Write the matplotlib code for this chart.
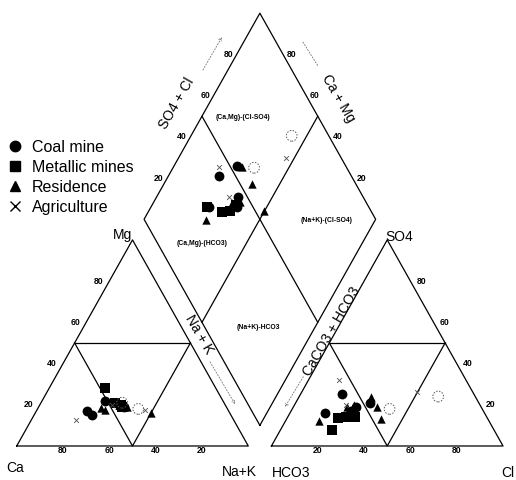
import numpy as np
import matplotlib.pyplot as plt
from matplotlib.lines import Line2D

plt.rcParams['font.family'] = ['Liberation Sans', 'DejaVu Sans']

# cations in % meq (Mg, Na+K; Ca is the rest) and anions (SO4, Cl; HCO3 is the rest)
coal_mg = [17, 22, 15, 20, 19]
coal_nak = [22, 27, 25, 35, 37]
coal_so4 = [25, 21, 16, 19, 17]
coal_cl = [18, 32, 15, 27, 26]

metal_mg = [28, 21, 20, 19]
metal_nak = [24, 32, 35, 36]
metal_so4 = [8, 13.5, 14, 14]
metal_cl = [22, 22, 25, 29]

resid_mg = [18.5, 16, 17.5, 19, 20, 19]
resid_nak = [27, 50, 29.5, 38, 34, 37]
resid_so4 = [12, 13, 24, 19, 19, 20]
resid_cl = [14.5, 41, 31, 36, 23, 25.5]

agri_mg = [12.5, 17.5, 20]
agri_nak = [19.5, 46.5, 31]
agri_so4 = [32, 26, 20]
agri_cl = [13, 50, 22]

# samples plotted with a dashed open ring
ring_mg = [21, 18]
ring_nak = [35, 43.5]
ring_so4 = [18, 24]
ring_cl = [42, 60]

labels = ['Coal mine', 'Metallic mines', 'Residence', 'Agriculture']
ticks = [20, 40, 60, 80]

H = np.sqrt(3) / 2
GAP = 0.1


def cation_xy(mg, nak):
    mg = np.asarray(mg) / 100
    nak = np.asarray(nak) / 100
    return nak + mg / 2, mg * H


def anion_xy(so4, cl):
    so4 = np.asarray(so4) / 100
    cl = np.asarray(cl) / 100
    return 1 + GAP + cl + so4 / 2, so4 * H


def diamond_ab(a, b):
    # a = Ca+Mg, b = SO4+Cl, both as fractions
    return 1 + GAP / 2 + (b - a) / 2, GAP * H + (a + b) * H


def diamond_xy(nak, so4, cl):
    a = 1 - np.asarray(nak) / 100
    b = (np.asarray(so4) + np.asarray(cl)) / 100
    return diamond_ab(a, b)


fig = plt.figure(figsize=(5.16, 4.8), dpi=100)
ax = fig.add_axes([0, 0, 1, 1])
ax.set_xlim(-0.0721, 2.156)
ax.set_ylim(-0.1429, 1.874)
ax.axis('off')

lk = dict(color='black', lw=0.9, zorder=1)

# cation triangle
ax.plot([0, 1, 0.5, 0], [0, 0, H, 0], **lk)
ax.plot([0.25, 0.75], [H / 2, H / 2], **lk)
ax.plot([0.25, 0.5, 0.75], [H / 2, 0, H / 2], **lk)

# anion triangle
x0 = 1 + GAP
ax.plot([x0, x0 + 1, x0 + 0.5, x0], [0, 0, H, 0], **lk)
ax.plot([x0 + 0.25, x0 + 0.75], [H / 2, H / 2], **lk)
ax.plot([x0 + 0.25, x0 + 0.5, x0 + 0.75], [H / 2, 0, H / 2], **lk)

# diamond with its four fields
dx, dy = diamond_ab(np.array([0, 1, 1, 0, 0]), np.array([0, 0, 1, 1, 0]))
ax.plot(dx, dy, **lk)
mx, my = diamond_ab(np.array([0.5, 0.5]), np.array([0, 1]))
ax.plot(mx, my, **lk)
mx, my = diamond_ab(np.array([0, 1]), np.array([0.5, 0.5]))
ax.plot(mx, my, **lk)

# tick labels
tk = dict(fontsize=6.2, fontweight='bold', ha='center', va='center')
for t in ticks:
    f = t / 100
    ax.text(1 - f, -0.019, str(t), **tk)
    ax.text(f / 2 - 0.047, f * H, str(t), **tk)
    ax.text(x0 + f, -0.019, str(t), **tk)
    ax.text(x0 + 1 - f / 2 + 0.047, f * H, str(t), **tk)
    ux, uy = diamond_ab(1.0, f)
    ax.text(ux - 0.036, uy, str(t), **tk)
    ux, uy = diamond_ab(f, 1.0)
    ax.text(ux + 0.038, uy, str(t), **tk)

# field names
zk = dict(fontsize=4.9, fontweight='bold', ha='center', va='center')
for a, b, name in [(0.82, 0.675, '(Ca,Mg)-(Cl-SO4)'),
                   (0.693, 0.191, '(Ca,Mg)-(HCO3)'),
                   (0.208, 0.785, '(Na+K)-(Cl-SO4)'),
                   (0.246, 0.23, '(Na+K)-HCO3')]:
    px, py = diamond_ab(a, b)
    ax.text(px, py, name, **zk)

# corner and axis titles
ak = dict(fontsize=10, ha='center', va='center')
ax.text(0.459, 0.886, 'Mg', **ak)
ax.text(-0.008, -0.092, 'Ca', **ak)
ax.text(0.960, -0.110, 'Na+K', **ak)
ax.text(1.185, -0.113, 'HCO3', **ak)
ax.text(2.093, -0.113, 'Cl', fontsize=10, ha='left', va='center')
ax.text(1.650, 0.877, 'SO4', **ak)
ax.text(0.691, 1.440, 'SO4 + Cl', rotation=60, **ak)
ax.text(1.389, 1.461, 'Ca + Mg', rotation=-60, **ak)
ax.text(0.789, 0.470, 'Na + K', rotation=-60, **ak)
ax.text(1.360, 0.480, 'CaCO3 + HCO3', rotation=60, **ak)

# faint direction arrows next to the axis titles
ar = dict(arrowstyle='->', lw=0.6, color='0.45', linestyle=(0, (1.5, 2)),
          shrinkA=0, shrinkB=0, mutation_scale=5)
ax.annotate('', xy=(0.886, 1.718), xytext=(0.804, 1.580), arrowprops=ar)
ax.annotate('', xy=(1.301, 1.597), xytext=(1.236, 1.697),
            arrowprops=dict(ar, arrowstyle='-'))
ax.annotate('', xy=(0.943, 0.176), xytext=(0.835, 0.353), arrowprops=ar)
ax.annotate('', xy=(1.1585, 0.164), xytext=(1.2375, 0.291), arrowprops=ar)

groups = [
    (coal_mg, coal_nak, coal_so4, coal_cl, dict(marker='o', s=50, c='black', linewidths=0)),
    (metal_mg, metal_nak, metal_so4, metal_cl, dict(marker='s', s=44, c='black', linewidths=0)),
    (resid_mg, resid_nak, resid_so4, resid_cl, dict(marker='^', s=36, c='black', linewidths=0)),
    (agri_mg, agri_nak, agri_so4, agri_cl, dict(marker='x', s=12, c='0.3', linewidths=0.6)),
]
for mg, nak, so4, cl, st in groups:
    for xy in (cation_xy(mg, nak), anion_xy(so4, cl), diamond_xy(nak, so4, cl)):
        ax.scatter(*xy, zorder=3, **st)

for xy in (cation_xy(ring_mg, ring_nak), anion_xy(ring_so4, ring_cl),
           diamond_xy(ring_nak, ring_so4, ring_cl)):
    ax.scatter(*xy, marker='o', s=60, facecolors='none', edgecolors='0.35',
               linewidths=0.7, linestyle=(0, (1.5, 1.5)), zorder=3)

handles = [
    Line2D([], [], ls='none', marker='o', ms=7.5, color='black'),
    Line2D([], [], ls='none', marker='s', ms=6.5, color='black'),
    Line2D([], [], ls='none', marker='^', ms=6.5, color='black'),
    Line2D([], [], ls='none', marker='x', ms=7, color='black', mew=1.0),
]
fig.legend(handles, labels, loc='upper left', bbox_to_anchor=(0.0136, 1 - 139.5 / 480),
           frameon=False, fontsize=11.5, handlelength=1.0, handletextpad=0.54,
           labelspacing=0.32, borderpad=0, borderaxespad=0)

fig.savefig('out.png', dpi=100)
